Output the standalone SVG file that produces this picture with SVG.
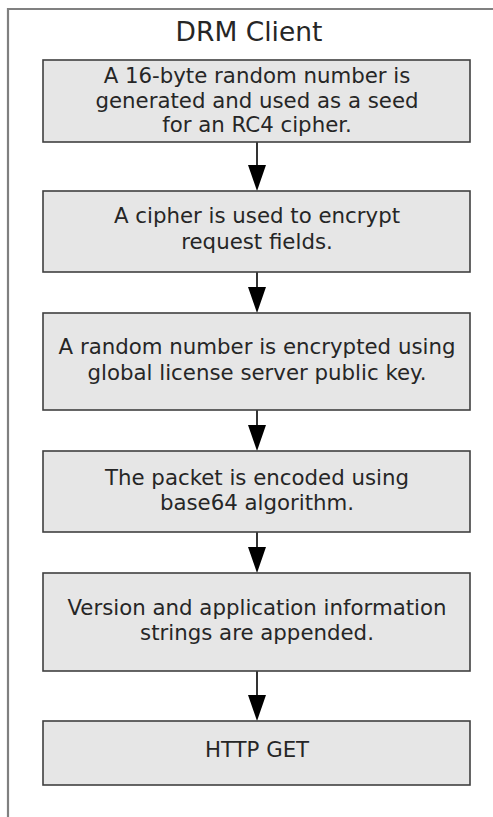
<svg xmlns="http://www.w3.org/2000/svg" width="493" height="817" viewBox="0 0 493 817">
<style>
.box{fill:#e6e6e6;stroke:#404040;stroke-width:1.6}
.t{font-family:"DejaVu Sans",Verdana,sans-serif;font-size:21.3px;fill:#262626;text-anchor:middle}
.title{font-family:"DejaVu Sans",Verdana,sans-serif;font-size:26.5px;fill:#262626;text-anchor:middle}
.c{stroke:#000;stroke-width:1.6;fill:none}
.ah{fill:#000}
</style>
<rect width="493" height="817" fill="#fff"/>
<g id="frame">
<path d="M8,830 V9 H500" fill="none" stroke="#808080" stroke-width="2.2"/>
<text class="title" x="249" y="41">DRM Client</text>
</g>
<g id="connectors">
<line class="c" x1="257" y1="142" x2="257" y2="170"/>
<path class="ah" d="M248,165 L266,165 L257,191 Z"/>
<line class="c" x1="257" y1="272" x2="257" y2="292"/>
<path class="ah" d="M248,287 L266,287 L257,313 Z"/>
<line class="c" x1="257" y1="410" x2="257" y2="430"/>
<path class="ah" d="M248,425 L266,425 L257,451 Z"/>
<line class="c" x1="257" y1="532" x2="257" y2="552"/>
<path class="ah" d="M248,547 L266,547 L257,573 Z"/>
<line class="c" x1="257" y1="671" x2="257" y2="700"/>
<path class="ah" d="M248,695 L266,695 L257,721 Z"/>
</g>
<g id="n1">
<rect class="box" x="43" y="60" width="427" height="82"/>
<text class="t" x="257" y="83">A 16-byte random number is</text>
<text class="t" x="257" y="107.5">generated and used as a seed</text>
<text class="t" x="257" y="132">for an RC4 cipher.</text>
</g>
<g id="n2">
<rect class="box" x="43" y="191" width="427" height="81"/>
<text class="t" x="257" y="223">A cipher is used to encrypt</text>
<text class="t" x="257" y="248.5">request fields.</text>
</g>
<g id="n3">
<rect class="box" x="43" y="313" width="427" height="97"/>
<text class="t" x="257" y="354">A random number is encrypted using</text>
<text class="t" x="257" y="379.5">global license server public key.</text>
</g>
<g id="n4">
<rect class="box" x="43" y="451" width="427" height="81"/>
<text class="t" x="257" y="485">The packet is encoded using</text>
<text class="t" x="257" y="510">base64 algorithm.</text>
</g>
<g id="n5">
<rect class="box" x="43" y="573" width="427" height="98"/>
<text class="t" x="257" y="615">Version and application information</text>
<text class="t" x="257" y="640">strings are appended.</text>
</g>
<g id="n6">
<rect class="box" x="43" y="721" width="427" height="64"/>
<text class="t" x="257" y="757">HTTP GET</text>
</g>
</svg>
